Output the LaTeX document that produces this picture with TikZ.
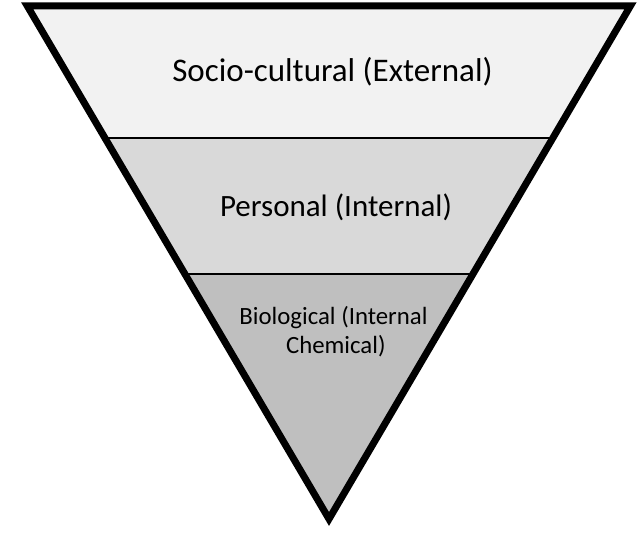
\documentclass[tikz,border=0pt]{standalone}
\usepackage{fontspec}
\setmainfont{Carlito}
\definecolor{bandA}{HTML}{F2F2F2}
\definecolor{bandB}{HTML}{D9D9D9}
\definecolor{bandC}{HTML}{BFBFBF}
\tikzset{
  lbl/.style={anchor=base, inner sep=0pt, text=black},
  divider/.style={line width=2.8pt, black},
  outline/.style={line width=7pt, black, miter limit=10, line join=miter}
}
\begin{document}
\begin{tikzpicture}[x=1pt,y=-1pt]
\useasboundingbox (0,0) rectangle (640,544);
\coordinate (tl) at (27.2,5.8);
\coordinate (tr) at (630.5,5.8);
\coordinate (ap) at (329,519);
\begin{scope}
  \clip (tl) -- (tr) -- (ap) -- cycle;
  \fill[bandA] (0,0) rectangle (640,138);
  \fill[bandB] (0,138) rectangle (640,274);
  \fill[bandC] (0,274) rectangle (640,544);
  \draw[divider] (0,138) -- (640,138);
  \draw[divider] (0,274) -- (640,274);
\end{scope}
\draw[outline] (tl) -- (tr) -- (ap) -- cycle;
\node[lbl, font=\fontsize{33}{40}\selectfont] (soc) at (332.5,81.7) {Socio-cultural (External)};
\node[lbl, font=\fontsize{31}{37}\selectfont] (per) at (336,216) {Personal (Internal)};
\node[lbl, font=\fontsize{24.8}{29}\selectfont] (bio1) at (333.5,324.3) {Biological (Internal};
\node[lbl, font=\fontsize{24.8}{29}\selectfont] (bio2) at (335.8,353.3) {Chemical)};
\end{tikzpicture}
\end{document}
